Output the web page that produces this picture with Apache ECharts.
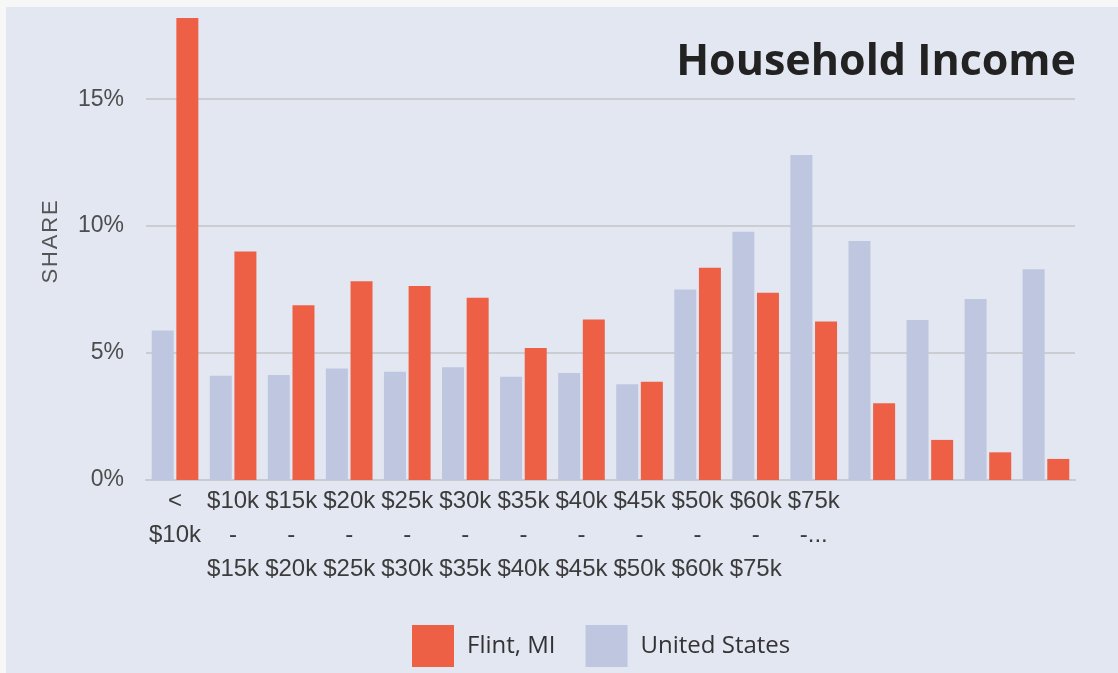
<!DOCTYPE html>
<html>
<head>
<meta charset="utf-8">
<script src="https://cdn.jsdelivr.net/npm/echarts@6/dist/echarts.min.js"></script>
<style>
  html, body { margin: 0; padding: 0; background: #f7f7f8; }
  #chart { position: absolute; left: 6px; top: 7px; width: 1112px; height: 666px; background: #e3e7f2; }
</style>
</head>
<body>
<div id="chart"></div>
<script>
// income brackets
var categories = ['< $10k', '$10k - $15k', '$15k - $20k', '$20k - $25k', '$25k - $30k',
  '$30k - $35k', '$35k - $40k', '$40k - $45k', '$45k - $50k', '$50k - $60k',
  '$60k - $75k', '$75k - $100k', '$100k - $125k', '$125k - $150k', '$150k - $200k', '$200k+']
// what actually shows under the axis (last four are hidden in the original)
var tickLabels = ['<\n$10k', '$10k\n-\n$15k', '$15k\n-\n$20k', '$20k\n-\n$25k', '$25k\n-\n$30k',
  '$30k\n-\n$35k', '$35k\n-\n$40k', '$40k\n-\n$45k', '$45k\n-\n$50k', '$50k\n-\n$60k',
  '$60k\n-\n$75k', '$75k\n-...', '', '', '', '']
var flint = [18.2, 9.0, 6.88, 7.83, 7.64, 7.18, 5.2, 6.32, 3.87, 8.36, 7.38, 6.24, 3.02, 1.58, 1.09, 0.83]
var usa = [5.89, 4.11, 4.14, 4.39, 4.26, 4.44, 4.07, 4.22, 3.77, 7.5, 9.78, 12.8, 9.42, 6.3, 7.13, 8.3]
var yTicks = [0, 5, 10, 15]

var chart = echarts.init(document.getElementById('chart'))
var option = {
  animation: false,
  title: {
    text: 'Household Income',
    right: 37,
    top: 26,
    textStyle: {
      fontFamily: 'Open Sans',
      fontWeight: 'bold',
      fontSize: 43,
      lineHeight: 50,
      color: '#222222'
    }
  },
  legend: {
    data: ['Flint, MI', 'United States'],
    left: 401,
    top: 613,
    icon: 'rect',
    itemWidth: 42,
    itemHeight: 42,
    itemGap: 30,
    textStyle: {
      fontFamily: 'Open Sans',
      fontSize: 24,
      color: '#333333',
      padding: [0, 0, 0, 8]
    }
  },
  grid: {
    left: 140,
    right: 43,
    top: 11,
    bottom: 193
  },
  xAxis: {
    type: 'category',
    data: categories,
    axisTick: { show: false },
    axisLine: {
      show: true,
      lineStyle: { color: '#c9cbd1', width: 2 }
    },
    axisLabel: {
      interval: 0,
      margin: 4,
      fontFamily: 'Liberation Sans',
      fontSize: 24,
      lineHeight: 34,
      color: '#3c3c3c',
      formatter: function (val, idx) {
        return tickLabels[idx]
      }
    }
  },
  yAxis: {
    type: 'value',
    min: yTicks[0],
    max: 18.2,
    interval: yTicks[1] - yTicks[0],
    name: 'S\u200AH\u200AA\u200AR\u200AE',
    nameLocation: 'middle',
    nameGap: 84,
    nameTextStyle: {
      fontFamily: 'Liberation Sans',
      fontSize: 22,
      color: '#555555',
      padding: [0, 0, 0, 14]
    },
    axisLine: { show: false },
    axisTick: { show: false },
    axisLabel: {
      margin: 22,
      showMaxLabel: false,
      fontFamily: 'Liberation Sans',
      fontSize: 23,
      color: '#4d4d4d',
      formatter: '{value}%'
    },
    splitLine: {
      show: true,
      showMaxLine: false,
      lineStyle: { color: '#cbcdd3', width: 2 }
    }
  },
  series: [
    {
      name: 'United States',
      type: 'bar',
      data: usa,
      barWidth: 22,
      barGap: '12%',
      itemStyle: { color: '#bfc7e0' }
    },
    {
      name: 'Flint, MI',
      type: 'bar',
      data: flint,
      barWidth: 22,
      itemStyle: { color: '#ee6045' }
    }
  ]
}
chart.setOption(option)
</script>
</body>
</html>
